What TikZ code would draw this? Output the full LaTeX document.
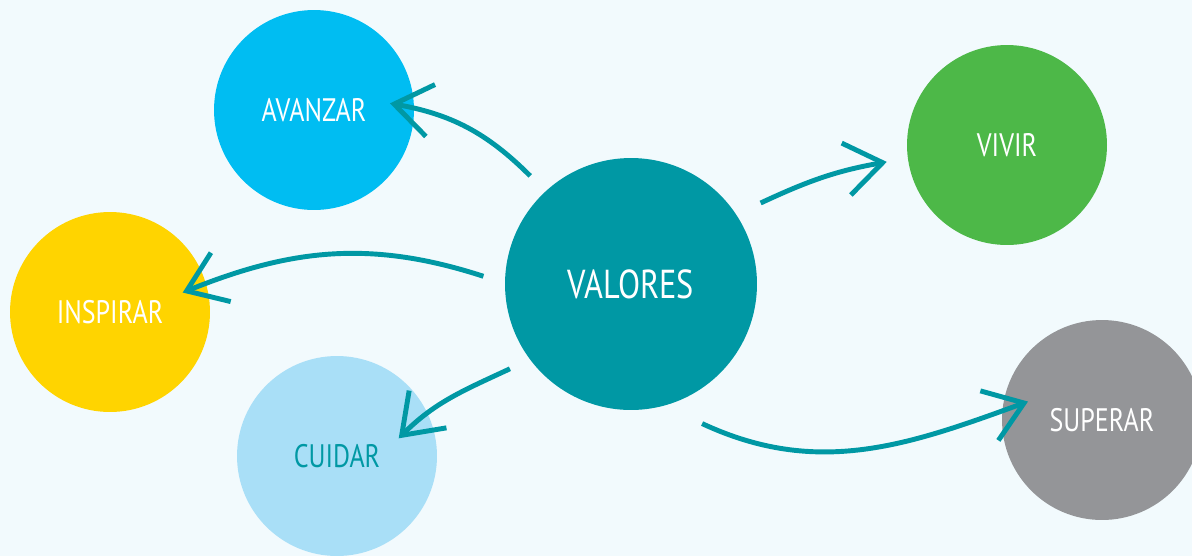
\documentclass[tikz,border=0pt]{standalone}
\usepackage{fontspec}
\setmainfont{PT Sans}[FakeStretch=0.8]
\usepackage{tikz}
\usetikzlibrary{arrows.meta, calc}
\definecolor{vBack}{HTML}{F2FAFD}
\definecolor{vTeal}{HTML}{0098A4}
\definecolor{vCyan}{HTML}{00BDF2}
\definecolor{vYellow}{HTML}{FFD400}
\definecolor{vSky}{HTML}{A9DFF7}
\definecolor{vGreen}{HTML}{4DB848}
\definecolor{vGrey}{HTML}{949598}

\begin{document}
\begin{tikzpicture}[x=0.02cm, y=-0.02cm,
  bubble/.style={circle, minimum size=4cm, inner sep=0pt, text=white,
                 font=\fontsize{18.5}{19}\selectfont},
  link/.style={-{Straight Barb[length=21pt, width=30pt]}, line width=2.8pt, vTeal}]
  % background
  \fill[vBack] (0,0) rectangle (1192,556);
  \clip (0,0) rectangle (1192,556);
  % circles
  \node[bubble, fill=vCyan] (avanzar) at (314,110) {AVANZAR};
  \node[bubble, fill=vYellow] (inspirar) at (110,312) {INSPIRAR};
  \node[bubble, fill=vSky, text=vTeal] (cuidar) at (337,456) {CUIDAR};
  \node[bubble, fill=vGreen] (vivir) at (1007,145) {VIVIR};
  \node[bubble, fill=vGrey] (superar) at (1102,420) {SUPERAR};
  \node[bubble, fill=vTeal, minimum size=5.04cm, font=\fontsize{23}{23}\selectfont] (valores) at (631,284) {VALORES};
  % arrow ends
  \coordinate (s1) at ($(valores.center)!1.17!(valores.133)$);
  \coordinate (s2) at ($(valores.center)!1.17!(valores.177)$);
  \coordinate (s3) at ($(valores.center)!1.17!(valores.215)$);
  \coordinate (s4) at ($(valores.center)!1.21!(valores.32)$);
  \coordinate (s5) at ($(valores.center)!1.24!(valores.-63)$);
  \coordinate (e1) at ($(avanzar.center)!0.76!(avanzar.5)$);
  \coordinate (e2) at ($(inspirar.center)!0.75!(inspirar.15)$);
  \coordinate (e3) at ($(cuidar.center)!0.64!(cuidar.16)$);
  \coordinate (e4) at ($(vivir.center)!1.21!(vivir.188)$);
  \coordinate (e5) at ($(superar.center)!0.76!(superar.166)$);
  % arrows
  \draw[link] (s1) to[out=135, in=-10] (e1);
  \draw[link] (s2) to[out=162, in=22] (e2);
  \draw[link] (s3) to[out=205, in=45] (e3);
  \draw[link] (s4) to[out=25, in=190] (e4);
  \draw[link] (s5) to[out=-25, in=200] (e5);
\end{tikzpicture}
\end{document}
